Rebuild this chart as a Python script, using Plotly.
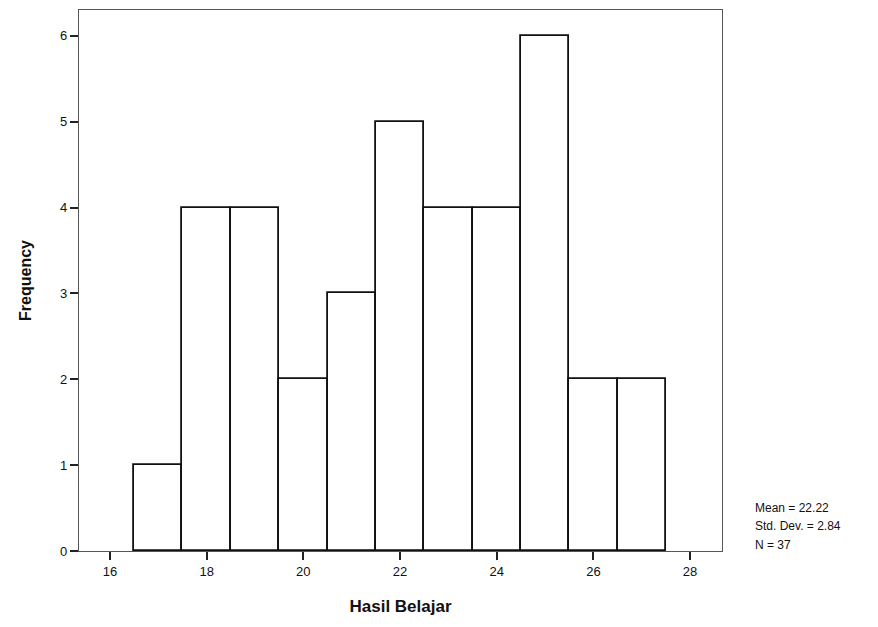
import plotly.graph_objects as go

scores = [17, 18, 19, 20, 21, 22, 23, 24, 25, 26, 27]
frequency = [1, 4, 4, 2, 3, 5, 4, 4, 6, 2, 2]
x_ticks = [16, 18, 20, 22, 24, 26, 28]
y_ticks = [0, 1, 2, 3, 4, 5, 6]
stats_text = ["Mean = 22.22", "Std. Dev. = 2.84", "N = 37"]

fig = go.Figure()
fig.add_trace(go.Bar(
    x=scores, y=frequency, width=1,
    marker=dict(color="white", line=dict(color="#111111", width=1.8)),
    showlegend=False,
))

fig.update_layout(
    width=878, height=627,
    margin=dict(l=71, r=164, t=2, b=84),
    paper_bgcolor="white", plot_bgcolor="white",
    font=dict(family="Liberation Sans, Arial, sans-serif", color="#111111"),
    bargap=0,
)
fig.update_xaxes(
    range=[15.36, 28.66], tickvals=x_ticks, ticktext=[str(v) for v in x_ticks],
    ticks="outside", ticklen=8, tickwidth=1.5, tickcolor="#222222",
    showline=True, mirror=True, linecolor="#555555", linewidth=1.2,
    showgrid=False, zeroline=False,
    tickfont=dict(size=13),
    title=dict(text="<b>Hasil Belajar</b>", font=dict(size=17), standoff=22),
)
fig.update_yaxes(
    range=[0, 6.30], tickvals=y_ticks, ticktext=[str(v) for v in y_ticks],
    ticks="outside", ticklen=8, tickwidth=1.5, tickcolor="#222222",
    showline=True, mirror=True, linecolor="#555555", linewidth=1.2,
    showgrid=False, zeroline=False,
    tickfont=dict(size=13),
    title=dict(text="<b>Frequency</b>", font=dict(size=16), standoff=24),
)
for i, line in enumerate(stats_text):
    fig.add_annotation(
        xref="paper", yref="paper", x=1.048, y=0.079 - i * 0.0335,
        xanchor="left", yanchor="middle",
        text=line, showarrow=False, align="left",
        font=dict(size=12, color="#111111"),
    )
fig.write_html("out.html")
